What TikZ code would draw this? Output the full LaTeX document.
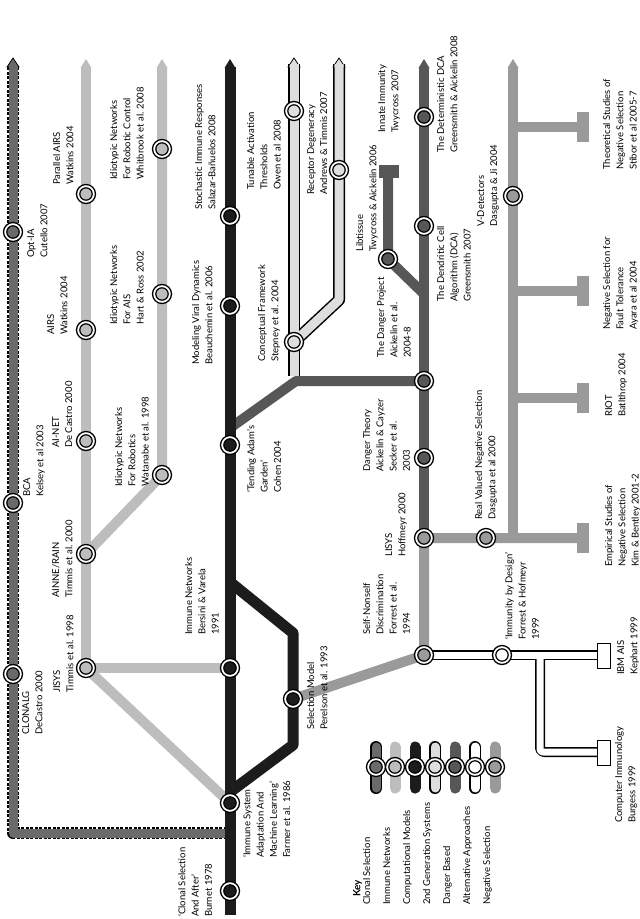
\documentclass[tikz,border=0pt]{standalone}
\usepackage{fontspec}
\setmainfont{Lato}
\definecolor{csC}{HTML}{6A6A6A}
\definecolor{inC}{HTML}{BDBDBD}
\definecolor{cmC}{HTML}{1C1C1C}
\definecolor{sgC}{HTML}{DEDEDE}
\definecolor{dbC}{HTML}{575757}
\definecolor{nsC}{HTML}{9A9A9A}
\tikzset{
 lab/.style={rotate=90,anchor=north west,align=left,inner sep=0pt,font=\fontsize{9.5}{13.2}\selectfont},
 ring/.style={circle,draw=black,line width=1.3pt,fill=white,minimum size=19pt,inner sep=0pt},
 tl/.style={line width=#1,line join=round},
}
\newcommand\mystn[4]{\node[ring] (#1) at (#2,#3) {}; \fill[#4,draw=black,line width=1.2pt] (#1) circle (6.2pt);}
\newcommand\mycap[3]{\filldraw[#3,draw=black,line width=0.8pt] ({#1-6},67) -- (#1,58) -- ({#1+6},67) -- cycle;}
\newcommand\mycapf[2]{\fill[#2] ({#1-5.5},68) -- (#1,59) -- ({#1+5.5},68) -- cycle;}
\begin{document}
\begin{tikzpicture}[x=1pt,y=-1pt]
\useasboundingbox (0,0) rectangle (640,919);
% ---------- coordinates
\coordinate (cmb) at (230,915);
\coordinate (clj) at (230,833);
% ---------- clonal selection
\mycap{13}{67}{csC}
\draw[tl=12pt,black,dash pattern=on 3pt off 1.5pt] (13,67) -- (13,833) -- (clj);
\draw[tl=9pt,csC] (13,66) -- (13,833) -- (clj);
% ---------- immune networks
\mycapf{86}{inC}\mycapf{162}{inC}
\draw[tl=10pt,inC] (86,67) -- (86,668) -- (230,668);
\draw[tl=10pt,inC] (86,668) -- (230,803);
\draw[tl=10pt,inC] (162,67) -- (162,475) -- (86,554);
% ---------- danger branch from black line
\draw[tl=10pt,dbC] (230,428) -- (296,381) -- (424,381);
% ---------- 2nd generation
\draw[tl=12pt,black] (294,64) -- (294,376);
\draw[tl=12pt,black] (339,64) -- (339,300) -- (294,342);
\mycap{294}{67}{sgC}\mycap{339}{62}{sgC}
\draw[tl=9pt,sgC] (294,64) -- (294,376);
\draw[tl=9pt,sgC] (339,64) -- (339,300) -- (294,342);
% ---------- computational
\mycapf{230}{cmC}
\draw[tl=11pt,cmC] (230,67) -- (cmb);
\draw[tl=11pt,cmC] (230,582) -- (293,633) -- (293,745) -- (230,792);
% ---------- danger
\mycapf{424}{dbC}
\draw[tl=10pt,dbC] (424,67) -- (424,538);
\draw[tl=10pt,dbC] (424,294) -- (388,259) -- (388,172);
\fill[dbC] (379,165) rectangle (399,178);
% ---------- negative selection
\mycapf{513}{nsC}
\draw[tl=10pt,nsC] (293,699) -- (424,655) -- (424,538) -- (577,538);
\draw[tl=10pt,nsC] (513,67) -- (513,538);
\foreach \yy in {127,291,398}{\draw[tl=10pt,nsC] (513,\yy) -- (577,\yy); \fill[nsC] (577,{\yy-15}) rectangle (589,{\yy+15});}
\fill[nsC] (577,523) rectangle (589,553);
% ---------- alternative approaches
\draw[tl=10pt,black,rounded corners=4pt] (424,655) -- (598,655);
\draw[tl=10pt,black,rounded corners=4pt] (540,655) -- (540,752) -- (598,752);
\draw[tl=7pt,white,rounded corners=3pt] (424,655) -- (598,655);
\draw[tl=7pt,white,rounded corners=3pt] (540,655) -- (540,752) -- (598,752);
\filldraw[fill=white,draw=black,line width=1pt] (597,643) rectangle (610,668);
\filldraw[fill=white,draw=black,line width=1pt] (597,740) rectangle (610,765);
% ---------- stations
\mystn{optia}{13}{232}{csC}\mystn{bca}{13}{503}{csC}\mystn{clonalg}{13}{674}{csC}
\mystn{pairs}{86}{194}{inC}\mystn{airs}{86}{330}{inC}\mystn{ainet}{86}{441}{inC}\mystn{ainne}{86}{554}{inC}\mystn{jisys}{86}{668}{inC}
\mystn{whit}{162}{149}{inC}\mystn{hart}{162}{294}{inC}\mystn{wata}{162}{475}{inC}
\mystn{stoch}{230}{216}{cmC}\mystn{viral}{230}{306}{cmC}\mystn{adam}{230}{445}{cmC}\mystn{bers}{230}{668}{cmC}\mystn{farm}{230}{803}{cmC}\mystn{burn}{230}{891}{cmC}
\mystn{selm}{293}{699}{cmC}
\mystn{owen}{294}{111}{sgC}\mystn{conc}{294}{342}{sgC}\mystn{rec}{339}{170}{sgC}
\mystn{ddca}{424}{117}{dbC}\mystn{dca}{424}{226}{dbC}\mystn{dproj}{424}{381}{dbC}\mystn{dth}{424}{458}{dbC}\mystn{lib}{388}{259}{dbC}
\mystn{lisys}{424}{538}{nsC}\mystn{sns}{424}{655}{nsC}\mystn{rv}{486}{538}{nsC}\mystn{vdet}{513}{196}{nsC}
\mystn{ibd}{502}{655}{white}
% ---------- labels
\node[lab] at (27,258) {Opt-IA\\Cutello 2007};
\node[lab] at (23,497) {BCA\\Kelsey et al 2003};
\node[lab] at (22,735) {CLONALG\\DeCastro 2000};
\node[lab] at (53,185) {Parallel AIRS\\Watkins 2004};
\node[lab] at (47,335) {AIRS\\Watkins 2004};
\node[lab] at (52,448) {AI-NET\\De Castro 2000};
\node[lab] at (52,598) {AINNE/RAIN\\Timmis et al. 2000};
\node[lab] at (53,693) {JISYS\\Timmis et al. 1998};
\node[lab] at (110,180) {Idiotypic Networks\\For Robotic Control\\Whitbrook et al. 2008};
\node[lab] at (110,325) {Idiotypic Networks\\For AIS\\Hart \& Ross 2002};
\node[lab] at (115,487) {Idiotypic Networks\\For Robotics\\Watanabe et al. 1998};
\node[lab] at (195,210) {Stochastic Immune Responses\\Salazar-Bañuelos 2008};
\node[lab] at (192,365) {Modeling Viral Dynamics\\Beauchemin et al. 2006};
\node[lab] at (185,635) {Immune Networks\\Bersini \& Varela\\1991};
\node[lab] at (178,917) {`Clonal Selection\\And After'\\Burnet 1978};
\node[lab] at (243,858) {`Immune System\\Adaptation And\\Machine Learning'\\Farmer et al. 1986};
\node[lab] at (247,493) {`Tending Adam's\\Garden'\\Cohen 2004};
\node[lab] at (247,190) {Tunable Activation\\Thresholds\\Owen et al 2008};
\node[lab] at (258,362) {Conceptual Framework\\Stepney et al. 2004};
\node[lab] at (307,195) {Receptor Degeneracy\\Andrews \& Timmis 2007};
\node[lab] at (307,730) {Selection Model\\Perelson et al. 1993};
\node[lab] at (356,252) {Libtissue\\Twycross \& Aickelin 2006};
\node[lab] at (378,133) {Innate Immunity\\Twycross 2007};
\node[lab] at (377,358) {The Danger Project\\Aickelin et al.\\2004-8};
\node[lab] at (363,472) {Danger Theory\\Aickelin \& Cayzer\\Secker et al.\\2003};
\node[lab] at (385,557) {LISYS\\Hoffmeyr 2000};
\node[lab] at (363,635) {Self-Nonself\\Discrimination\\Forrest et al.\\1994};
\node[lab] at (437,153) {The Deterministic DCA\\Greensmith \& Aickelin 2008};
\node[lab] at (437,302) {The Dendritic Cell\\Algorithm (DCA)\\Greensmith 2007};
\node[lab] at (477,227) {V-Detectors\\Dasgupta \& Ji 2004};
\node[lab] at (475,520) {Real Valued Negative Selection\\Dasgupta et al 2000};
\node[lab] at (505,640) {`Immunity by Design'\\Forrest \& Hofmeyr\\1999};
\node[lab] at (603,170) {Theoretical Studies of\\Negative Selection\\Stibor et al 2005-7};
\node[lab] at (603,330) {Negative Selection for\\Fault Tolerance\\Ayara et al 2004};
\node[lab] at (605,417) {RIOT\\Batlthrop 2004};
\node[lab] at (605,567) {Empirical Studies of\\Negative Selection\\Kim \& Bentley 2001-2};
\node[lab] at (617,675) {IBM AIS\\Kephart 1999};
\node[lab] at (615,823) {Computer Immunology\\Burgess 1999};
% ---------- key
\node[lab,font=\fontsize{10}{12}\selectfont\bfseries] at (353,897) {Key};
\foreach \lx/\t [count=\i] in {363/Clonal Selection,383/Immune Networks,403/Computational Models,423/2nd Generation Systems,443/Danger Based,463/Alternative Approaches,483/Negative Selection}
  \node[lab] at (\lx,905) {\t};
\draw[line width=12pt,black,line cap=round,dash pattern=on 3pt off 1.5pt] (376,747) -- (376,788);
\draw[line width=9pt,csC,line cap=round] (376,747) -- (376,788);
\draw[line width=11pt,inC,line cap=round] (395,747) -- (395,788);
\draw[line width=11pt,cmC,line cap=round] (415,747) -- (415,788);
\draw[line width=12pt,black,line cap=round] (435,747) -- (435,788);
\draw[line width=9pt,sgC,line cap=round] (435,747) -- (435,788);
\draw[line width=11pt,dbC,line cap=round] (455,747) -- (455,788);
\draw[line width=12pt,black,line cap=round] (475,747) -- (475,788);
\draw[line width=9pt,white,line cap=round] (475,747) -- (475,788);
\draw[line width=11pt,nsC,line cap=round] (495,747) -- (495,788);
\mystn{k1}{376}{767}{csC}\mystn{k2}{395}{767}{inC}\mystn{k3}{415}{767}{cmC}\mystn{k4}{435}{767}{sgC}
\mystn{k5}{455}{767}{dbC}\mystn{k6}{475}{767}{white}\mystn{k7}{495}{767}{nsC}
\end{tikzpicture}
\end{document}
